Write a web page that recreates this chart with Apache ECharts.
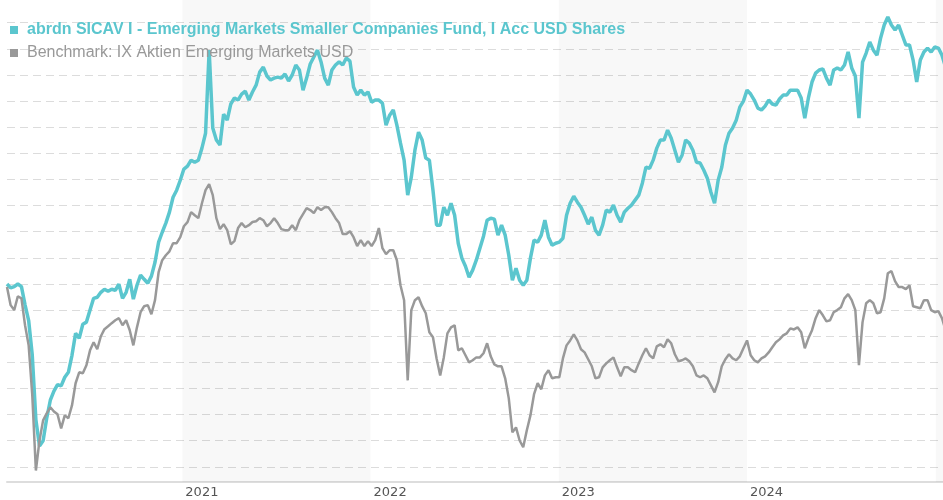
<!DOCTYPE html>
<html>
<head>
<meta charset="utf-8">
<title>abrdn SICAV I - Emerging Markets Smaller Companies Fund</title>
<script src="https://cdn.jsdelivr.net/npm/echarts@6/dist/echarts.min.js"></script>
<style>
    html, body { margin: 0; padding: 0; background: #ffffff; }
    #chart { width: 943px; height: 500px; }
</style>
</head>
<body>
<div id="chart"></div>
<script>
// weekly closes, first week starts 2020-01-27
var startYear = 2020, startMonth = 0, startDay = 27;

var fundName = 'abrdn SICAV I - Emerging Markets Smaller Companies Fund, I Acc USD Shares';
var benchName = 'Benchmark: IX Aktien Emerging Markets USD';

var fundValues = [
    110, 108.5, 109, 110, 109, 102, 96, 82.7, 58, 48,
    50, 58.6, 65.5, 69, 71.5, 71, 74.3, 76.2, 82.7, 91.1,
    89.2, 94.6, 95.4, 100, 104.5, 104.9, 106.8, 108, 107.2, 108,
    107.6, 109.9, 104.5, 106.8, 111.8, 104.2, 109.5, 113.4, 111.8, 110.3,
    113, 118.3, 126, 129.8, 133.3, 137.5, 143.2, 145.9, 149.7, 154,
    155.1, 157.4, 156.6, 157.4, 162, 167.7, 199.5, 169.7, 165.1, 163.2,
    175, 172.7, 178.9, 181.2, 180.4, 182.7, 183.8, 180.4, 183.5, 186.1,
    191.1, 193, 189.6, 188.1, 188.8, 189.2, 188.8, 190.4, 187.7, 190,
    193.8, 191.9, 184.2, 188.8, 194.2, 196.9, 199.5, 195, 188.8, 186.1,
    191.9, 193.8, 195, 193.8, 196.5, 195.3, 185.4, 182.3, 184.2, 182.3,
    183.5, 179.6, 180.4, 180.4, 179.2, 170.8, 174.6, 176.6, 170.8, 163.9,
    157.4, 144, 150.9, 161.2, 168.1, 165.1, 158.2, 157.4, 145.9, 132.5,
    132.5, 139.4, 136.3, 140.9, 136.3, 125.6, 119.9, 116.8, 112.6, 115.3,
    119.1, 123.7, 128.3, 134.4, 135.2, 134.8, 128.7, 132.5, 128.7, 121,
    111.4, 116, 111.4, 109.5, 111.4, 119.9, 126.8, 126, 128.7, 134.4,
    127.9, 124.8, 125.6, 126, 127.5, 136.3, 140.9, 143.6, 141.3, 139.4,
    136.3, 132.9, 135.6, 130.6, 128.7, 132.5, 138.3, 137.5, 140.2, 136.3,
    133.7, 137.5, 139, 140.2, 142.1, 144, 148.6, 154.7, 154.3, 157.4,
    162, 165.1, 165.1, 168.9, 165.8, 161.2, 156.6, 159.3, 165.1, 163.9,
    161.2, 156.6, 156.3, 153.6, 150.5, 145.1, 140.9, 149.7, 154.7, 163.1,
    167.7, 169.7, 172.7, 177.7, 180, 184.2, 182.7, 180.4, 177.3, 176.6,
    178.1, 180.4, 178.9, 178.5, 180.8, 182.3, 182.3, 184.2, 184.2, 184.2,
    181.2, 173.5, 181.2, 187.3, 190.7, 191.9, 192.3, 188.8, 186.1, 191.9,
    192.7, 191.9, 193.8, 198.8, 192.7, 189.6, 173.5, 194.9, 198.4, 202.6,
    199.5, 197.6, 204.1, 209.1, 212.2, 209.1, 207.2, 209.1, 205.3, 201.5,
    201.5, 195.7, 187.3, 195.7, 198.8, 200.3, 198.8, 200.7, 200.3, 197.6,
    193
];

var benchValues = [
    108.8, 101.9, 100, 105.3, 104.5, 94.2, 86.5, 67.4, 38.6, 50.1,
    57.8, 60.5, 62.8, 61.2, 60.1, 54.7, 59.7, 58.6, 63.5, 72,
    76.2, 75.8, 78.9, 84.6, 87.7, 85, 90, 92.7, 93.8, 95,
    96.1, 96.9, 94.2, 96.1, 92.3, 86.5, 93.4, 99.2, 101.5, 101.9,
    98.4, 103.8, 114.5, 119.1, 121, 122.5, 125.6, 125.6, 127.9, 132.1,
    133.7, 137.5, 136.3, 135.2, 140.9, 145.9, 148.2, 144, 135.2, 131,
    132.9, 130.6, 125.2, 126.4, 131.4, 133.3, 131.7, 132.5, 133.7, 134,
    135.2, 134.4, 132.1, 133.3, 135.2, 133.3, 131, 130.6, 130.6, 132.5,
    130.6, 134.4, 136.7, 139, 138.3, 137.1, 139.4, 138.3, 139.4, 139.4,
    137.5, 135.2, 133.3, 129.1, 129.1, 130.2, 127.9, 124.5, 126.8, 124.5,
    126.4, 124.5, 126.8, 131.4, 123.7, 121.4, 122.9, 122.9, 119.1, 109.5,
    103.8, 73.1, 100, 103.8, 104.9, 101.5, 98.8, 91.5, 89.6, 81.5,
    75, 81.9, 91.1, 93.4, 94.2, 84.6, 85.4, 82.7, 80, 80.8,
    81.9, 81.9, 83.5, 87.3, 82.3, 79.2, 78.5, 78.5, 73.9, 66.2,
    53.2, 55.1, 50.1, 47.5, 54, 59.7, 67.8, 72, 69.7, 75,
    77, 73.9, 74.3, 74.3, 81.5, 86.5, 88.4, 90.7, 88.4, 85,
    83.8, 81.2, 78.5, 73.9, 74.3, 78.1, 79.6, 80.8, 81.9, 78.1,
    74.7, 78.1, 78.1, 77, 76.2, 79.6, 82.7, 85.4, 82.7, 81.5,
    86.1, 86.9, 85.8, 88.8, 87.3, 83.1, 80.4, 80.8, 81.5, 80.4,
    78.5, 75, 74.3, 75, 73.9, 71.2, 68.5, 72.4, 78.5, 81.2,
    83.1, 81.5, 80.8, 82.3, 85.4, 88.4, 82.7, 80.8, 80, 81.5,
    82.3, 83.8, 85.8, 87.7, 88.8, 90.3, 91.1, 93, 92.6, 93.4,
    91.5, 85.4, 89.2, 92.3, 96.9, 100, 98, 95.7, 96.1, 99.2,
    100, 101.1, 104.5, 106.1, 103.8, 100, 78.9, 95.4, 102.6, 103.8,
    102.6, 98.8, 99.2, 104.5, 114.1, 114.9, 111.1, 108.8, 108.8, 108,
    109.5, 101.5, 101.1, 100.7, 103.8, 103.8, 100, 99.2, 99.6, 96.9,
    92.3
];

// years with a label under the axis, and the shaded years
var tickYears = ['2021', '2022', '2023', '2024'];
var bandStarts = ['2021-01-01', '2023-01-01', '2025-01-01'];
var bandEnds = ['2022-01-01', '2024-01-01', '2025-01-15'];

var tealColor = '#5bc6ce';
var greyColor = '#999999';

function toPairs(values) {
    var out = [];
    for (var i = 0; i < values.length; i++) {
        out.push([new Date(startYear, startMonth, startDay + 7 * i), values[i]]);
    }
    return out;
}

var bands = [];
for (var b = 0; b < bandStarts.length; b++) {
    bands.push([{ xAxis: bandStarts[b] }, { xAxis: bandEnds[b] }]);
}

(function () {
    var myChart = echarts.init(document.getElementById('chart'));
    var option = {
        animation: false,
        legend: {
            orient: 'vertical',
            left: 5,
            top: 16,
            itemWidth: 8,
            itemHeight: 8,
            itemGap: 5,
            icon: 'rect',
            selectedMode: false,
            data: [
                {
                    name: fundName,
                    itemStyle: { color: tealColor },
                    textStyle: { color: tealColor, fontWeight: 'bold' }
                },
                {
                    name: benchName,
                    itemStyle: { color: greyColor },
                    textStyle: { color: greyColor, fontWeight: 'normal' }
                }
            ],
            textStyle: {
                fontFamily: 'Liberation Sans, Arial, sans-serif',
                fontSize: 16,
                lineHeight: 18,
                padding: [0, 0, 0, 4]
            }
        },
        grid: {
            left: 7,
            right: 0,
            top: 0,
            bottom: 18
        },
        xAxis: {
            type: 'time',
            min: new Date(2020, 0, 27),
            max: new Date(2025, 0, 15),
            minInterval: 3600 * 24 * 1000 * 365,
            axisLine: { lineStyle: { color: '#dddddd', width: 2 } },
            axisTick: { show: false },
            splitLine: { show: false },
            axisLabel: {
                align: 'left',
                margin: 4,
                padding: [0, 0, 0, 3],
                color: '#555555',
                fontFamily: 'DejaVu Sans',
                fontSize: 13,
                formatter: function (value) {
                    var y = String(new Date(value).getFullYear());
                    return tickYears.indexOf(y) >= 0 ? y : '';
                }
            }
        },
        yAxis: {
            type: 'value',
            min: 34.2,
            max: 218.7,
            splitNumber: 18,
            axisLine: { show: false },
            axisTick: { show: false },
            axisLabel: { show: false },
            splitLine: {
                show: true,
                showMinLine: false,
                showMaxLine: false,
                lineStyle: { color: '#dcdcdc', width: 1, type: [8, 5] }
            }
        },
        series: [
            {
                name: fundName,
                type: 'line',
                showSymbol: false,
                symbol: 'none',
                data: toPairs(fundValues),
                lineStyle: { color: tealColor, width: 3.5 },
                itemStyle: { color: tealColor },
                markArea: {
                    silent: true,
                    itemStyle: { color: 'rgba(0, 0, 0, 0.028)' },
                    data: bands
                }
            },
            {
                name: benchName,
                type: 'line',
                showSymbol: false,
                symbol: 'none',
                data: toPairs(benchValues),
                lineStyle: { color: greyColor, width: 2.5 },
                itemStyle: { color: greyColor }
            }
        ]
    };
    myChart.setOption(option);
    window.addEventListener('resize', function () {
        myChart.resize();
    });
})();
</script>
</body>
</html>
